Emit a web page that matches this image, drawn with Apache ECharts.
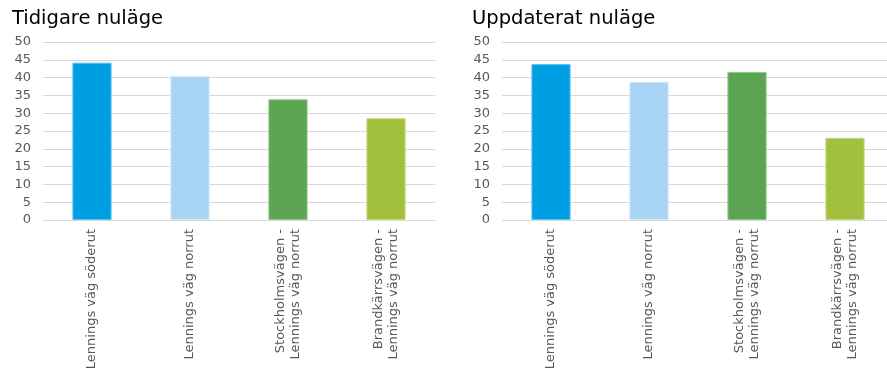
<!DOCTYPE html>
<html>
<head>
<meta charset="utf-8">
<script src="https://cdn.jsdelivr.net/npm/echarts@6/dist/echarts.min.js"></script>
<style>
  html, body { margin: 0; padding: 0; background: #ffffff; }
  #chart { width: 887px; height: 369px; }
</style>
</head>
<body>
<div id="chart"></div>
<script>
// Road sections (categories) shared by both panels
const categories = [
  'Lennings väg söderut',
  'Lennings väg norrut',
  'Stockholmsvägen -\nLennings väg norrut',
  'Brandkärrsvägen -\nLennings väg norrut'
];
const previousValues = [44.2, 40.4, 33.9, 28.6];
const updatedValues = [43.8, 38.8, 41.6, 23.1];
const barColors = ['#009fe3', '#a9d5f5', '#5ba552', '#a2c03e'];
const barBorders = ['#5cc3ef', '#cfe8fa', '#93c78c', '#c5da85'];
const panelTitles = ['Tidigare nuläge', 'Uppdaterat nuläge'];
const yTicks = { min: 0, max: 50, interval: 5 };

const FONT = '"DejaVu Sans", Verdana, sans-serif';
const chart = echarts.init(document.getElementById('chart'));

function styledData(values) {
  return values.map((v, i) => ({
    value: v,
    itemStyle: { color: barColors[i], borderColor: barBorders[i], borderWidth: 1 }
  }));
}

const panels = [
  { left: 43, titleLeft: 12, values: previousValues },
  { left: 502, titleLeft: 472, values: updatedValues }
];

const option = {
  animation: false,
  title: panels.map((p, i) => ({
    text: panelTitles[i],
    left: p.titleLeft,
    top: 9,
    padding: 0,
    textStyle: { fontFamily: FONT, fontSize: 19.5, fontWeight: 'normal', color: '#000000' }
  })),
  grid: panels.map(p => ({
    left: p.left, top: 42, width: 392, height: 178,
    containLabel: false, outerBoundsMode: 'none'
  })),
  xAxis: panels.map((p, i) => ({
    type: 'category',
    gridIndex: i,
    data: categories,
    axisLine: { lineStyle: { color: '#d9d9d9', width: 1 } },
    axisTick: { show: false },
    axisLabel: {
      rotate: 90,
      interval: 0,
      margin: 9,
      fontFamily: FONT,
      fontSize: 13,
      lineHeight: 15,
      color: '#595959'
    }
  })),
  yAxis: panels.map((p, i) => ({
    type: 'value',
    gridIndex: i,
    min: yTicks.min,
    max: yTicks.max,
    interval: yTicks.interval,
    axisLine: { show: false },
    axisTick: { show: false },
    splitLine: { lineStyle: { color: '#d9d9d9', width: 1 } },
    axisLabel: { fontFamily: FONT, fontSize: 13, color: '#595959', margin: 12 }
  })),
  series: panels.map((p, i) => ({
    type: 'bar',
    xAxisIndex: i,
    yAxisIndex: i,
    barWidth: '40%',
    data: styledData(p.values)
  }))
};

chart.setOption(option);
</script>
</body>
</html>
